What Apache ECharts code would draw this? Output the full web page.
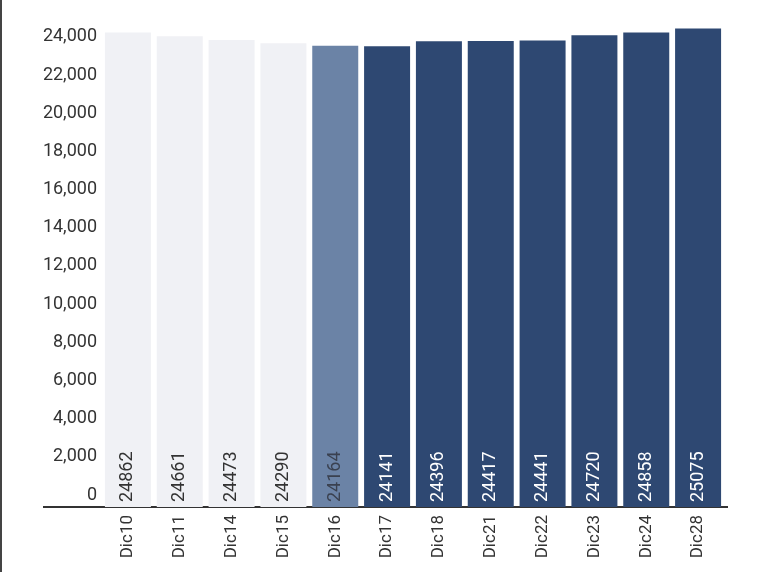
<!DOCTYPE html>
<html>
<head>
<meta charset="utf-8">
<script src="https://cdn.jsdelivr.net/npm/echarts@6/dist/echarts.min.js"></script>
<style>
html,body{margin:0;padding:0;background:#fff;}
#chart{width:760px;height:572px;}
</style>
</head>
<body>
<div id="chart"></div>
<script>
const categories = ['Dic10','Dic11','Dic14','Dic15','Dic16','Dic17','Dic18','Dic21','Dic22','Dic23','Dic24','Dic28'];
const values = [24862,24661,24473,24290,24164,24141,24396,24417,24441,24720,24858,25075];
const groups = ['past','past','past','past','current','future','future','future','future','future','future','future'];

const groupStyle = {
  past:    {bar:'#f0f1f5', label:'#333333'},
  current: {bar:'#6b83a6', label:'#3a4150'},
  future:  {bar:'#2e4872', label:'#ffffff'}
};

const chart = echarts.init(document.getElementById('chart'));
chart.setOption({
  animation:false,
  backgroundColor:'#ffffff',
  textStyle:{fontFamily:'Roboto'},
  grid:{left:102,right:36,top:26,bottom:65,containLabel:false},
  xAxis:{
    type:'category',
    data:categories,
    axisTick:{show:false},
    axisLine:{show:true,lineStyle:{color:'#333333',width:2}},
    axisLabel:{rotate:90,margin:8,fontSize:17,color:'#333333',fontFamily:'Roboto'}
  },
  yAxis:{
    type:'value',
    min:0,max:25200,interval:2000,
    splitLine:{show:false},
    axisLine:{show:false},axisTick:{show:false},
    axisLabel:{
      showMaxLabel:false,
      margin:5,fontSize:18,color:'#333333',fontFamily:'Roboto',
      verticalAlign:'bottom',lineHeight:18,padding:[0,0,3,0],
      formatter:v=>v.toLocaleString('en-US')
    }
  },
  graphic:[{
    type:'line',z:10,
    shape:{x1:43,y1:507,x2:104,y2:507},
    style:{stroke:'#333333',lineWidth:2}
  },{
    type:'line',z:10,
    shape:{x1:722,y1:507,x2:728,y2:507},
    style:{stroke:'#333333',lineWidth:2}
  },{
    type:'rect',z:10,
    shape:{x:0,y:0,width:2,height:572},
    style:{fill:'#444444'}
  }],
  series:[{
    type:'bar',
    barWidth:46,
    data:values.map((v,i)=>({
      value:v,
      itemStyle:{color:groupStyle[groups[i]].bar},
      label:{color:groupStyle[groups[i]].label}
    })),
    label:{
      show:true,
      position:'insideBottom',
      distance:5,
      rotate:90,
      align:'left',
      verticalAlign:'middle',
      fontSize:18,
      fontFamily:'Roboto'
    }
  }]
});
</script>
</body>
</html>
